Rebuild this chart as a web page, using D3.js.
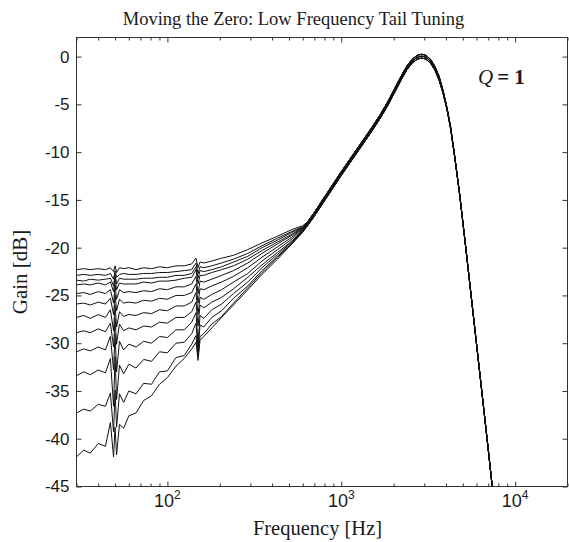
<!DOCTYPE html>
<html>
<head>
<meta charset="utf-8">
<script src="https://cdn.jsdelivr.net/npm/d3@7"></script>
<style>
  html, body { margin: 0; padding: 0; background: #fff; }
  svg { display: block; }
</style>
</head>
<body>
<div id="chart"></div>
<script>
// frequencies (Hz) of the low-frequency part
const lowFreqs = [
  30, 33, 36, 40, 44, 47, 49, 50,
  51, 53, 56, 60, 66, 73, 81, 90,
  100, 112, 125, 138, 146, 150, 154, 162,
  180, 205, 240, 290, 350, 430, 520, 600,
];

// gain (dB) of each curve at lowFreqs, top curve first
const lowGains = [
  [-22.3, -22.2, -22.3, -22.2, -22.3, -22.1, -22.5, -21.9,
   -22.6, -22.1, -22.2, -22.1, -22.3, -22.1, -22.2, -22.0,
   -22.1, -21.9, -21.9, -21.7, -21.1, -22.1, -21.5, -21.6,
   -21.4, -21.1, -20.8, -20.2, -19.5, -18.8, -18.1, -17.7],
  [-22.9, -22.8, -22.9, -22.8, -22.9, -22.7, -23.3, -22.4,
   -23.1, -22.8, -22.7, -22.8, -22.8, -22.7, -22.7, -22.6,
   -22.6, -22.5, -22.4, -22.3, -21.6, -22.7, -22.0, -22.1,
   -21.9, -21.6, -21.2, -20.6, -19.8, -19.0, -18.3, -17.8],
  [-23.4, -23.5, -23.3, -23.4, -23.3, -23.2, -24.0, -22.8,
   -23.8, -23.2, -23.3, -23.3, -23.3, -23.2, -23.2, -23.1,
   -23.1, -22.9, -22.9, -22.7, -22.0, -23.2, -22.4, -22.5,
   -22.3, -22.0, -21.5, -20.9, -20.0, -19.2, -18.4, -17.9],
  [-23.9, -23.8, -23.9, -23.7, -23.9, -23.6, -24.6, -23.1,
   -24.4, -23.7, -23.8, -23.8, -23.8, -23.6, -23.7, -23.5,
   -23.5, -23.4, -23.2, -23.1, -22.3, -23.8, -22.9, -22.9,
   -22.6, -22.3, -21.9, -21.2, -20.3, -19.4, -18.6, -17.9],
  [-24.8, -24.7, -24.9, -24.6, -24.8, -24.4, -25.8, -23.9,
   -25.4, -24.4, -24.7, -24.6, -24.7, -24.5, -24.6, -24.3,
   -24.4, -24.1, -24.1, -23.8, -23.0, -24.8, -23.5, -23.6,
   -23.3, -22.9, -22.4, -21.6, -20.6, -19.6, -18.7, -18.0],
  [-25.9, -25.8, -26.0, -25.7, -25.9, -25.3, -27.0, -24.9,
   -26.6, -25.4, -25.8, -25.7, -25.8, -25.5, -25.6, -25.3,
   -25.4, -25.0, -25.0, -24.7, -23.8, -25.8, -24.3, -24.4,
   -24.0, -23.6, -23.0, -22.1, -21.0, -19.9, -18.9, -18.0],
  [-27.3, -27.1, -27.4, -27.0, -27.3, -26.5, -28.7, -26.0,
   -28.3, -26.7, -27.2, -27.0, -27.1, -26.8, -26.9, -26.5,
   -26.6, -26.1, -26.1, -25.7, -24.7, -27.0, -25.2, -25.4,
   -24.9, -24.4, -23.6, -22.7, -21.4, -20.2, -19.1, -18.1],
  [-28.9, -28.7, -28.9, -28.5, -28.8, -27.9, -30.4, -27.4,
   -30.1, -28.0, -28.7, -28.4, -28.6, -28.2, -28.3, -27.8,
   -27.9, -27.3, -27.3, -26.7, -25.7, -28.2, -26.0, -26.3,
   -25.7, -25.2, -24.3, -23.1, -21.8, -20.5, -19.3, -18.2],
  [-30.9, -30.6, -30.8, -30.4, -30.7, -29.3, -32.8, -29.0,
   -33.0, -29.8, -30.7, -30.1, -30.4, -29.8, -30.0, -29.3,
   -29.4, -28.6, -28.6, -27.8, -26.8, -30.0, -27.1, -27.4,
   -26.5, -25.9, -24.8, -23.6, -22.1, -20.7, -19.4, -18.3],
  [-33.4, -33.0, -33.3, -32.8, -33.1, -31.6, -36.6, -31.4,
   -35.9, -32.3, -33.2, -32.2, -32.6, -31.7, -31.9, -30.9,
   -31.0, -30.0, -29.9, -29.0, -27.9, -30.9, -28.1, -28.3,
   -27.3, -26.6, -25.3, -24.0, -22.4, -20.9, -19.5, -18.3],
  [-37.3, -36.9, -37.1, -36.4, -36.6, -35.2, -39.3, -34.9,
   -38.8, -35.3, -36.2, -35.0, -35.3, -34.2, -34.3, -33.0,
   -32.9, -31.5, -31.3, -30.1, -29.2, -31.4, -29.3, -29.0,
   -28.0, -27.2, -25.8, -24.2, -22.6, -21.0, -19.6, -18.3],
  [-41.9, -41.2, -41.5, -40.5, -40.8, -38.3, -41.9, -38.8,
   -41.7, -38.5, -38.9, -37.6, -37.3, -36.0, -35.5, -34.3,
   -33.6, -32.4, -31.6, -30.6, -29.9, -31.8, -29.7, -29.3,
   -28.4, -27.3, -26.0, -24.4, -22.8, -21.2, -19.6, -18.4],
];

// shared band-pass part where all curves meet (three slightly different traces)
const tailFreqs = [
  640, 700, 780, 870, 970, 1080, 1200, 1340,
  1500, 1670, 1840, 2020, 2200, 2380, 2560, 2750,
  2900, 3050, 3250, 3450, 3650, 3850, 4050, 4250,
  4500, 4800, 5200, 5700, 6300, 7000, 7300, 7700,
];
const tailUpper = [
  -17.3, -16.3, -15.0, -13.7, -12.4, -11.15, -9.95, -8.7,
  -7.4, -6.1, -4.8, -3.4, -2.1, -1.0, -0.25, 0.15,
  0.25, 0.15, -0.25, -1.0, -2.05, -3.55, -5.3, -7.3,
  -10.55, -14.45, -19.95, -26.45, -33.55, -41.05, -44.15, -48.05,
];
const tailMiddle = [
  -17.5, -16.5, -15.2, -13.9, -12.6, -11.35, -10.15, -8.9,
  -7.6, -6.3, -5.0, -3.6, -2.3, -1.2, -0.45, -0.05,
  0.05, -0.05, -0.45, -1.2, -2.25, -3.7, -5.4, -7.4,
  -10.6, -14.5, -20.0, -26.5, -33.6, -41.1, -44.2, -48.1,
];
const tailLower = [
  -17.7, -16.7, -15.4, -14.1, -12.8, -11.55, -10.35, -9.1,
  -7.8, -6.5, -5.2, -3.8, -2.5, -1.4, -0.65, -0.25,
  -0.15, -0.25, -0.65, -1.4, -2.45, -3.85, -5.5, -7.5,
  -10.65, -14.55, -20.05, -26.55, -33.65, -41.15, -44.25, -48.15,
];

const yTicks = [0, -5, -10, -15, -20, -25, -30, -35, -40, -45];
const xMajorTicks = [100, 1000, 10000];
const xTickExponents = ["2", "3", "4"];

const TITLE = "Moving the Zero: Low Frequency Tail Tuning";
const X_LABEL = "Frequency [Hz]";
const Y_LABEL = "Gain [dB]";

const WIDTH = 569;
const HEIGHT = 542;
const PLOT_LEFT = 76.5;
const PLOT_RIGHT = 567.5;
const PLOT_TOP = 37.5;
const PLOT_BOTTOM = 486.5;
const MAJOR_TICK = 5;
const MINOR_TICK = 3;
const AXIS_COLOR = "#333";
const TEXT_COLOR = "#1a1a1a";
const SERIF = "'Liberation Serif', 'Times New Roman', serif";
const SANS = "'Liberation Sans', Arial, sans-serif";

const x = d3.scaleLog().domain([30, 20000]).range([PLOT_LEFT, PLOT_RIGHT]);
const y = d3.scaleLinear().domain([-45, 2]).range([PLOT_BOTTOM, PLOT_TOP]);

const svg = d3
  .select("#chart")
  .append("svg")
  .attr("width", WIDTH)
  .attr("height", HEIGHT)
  .attr("viewBox", [0, 0, WIDTH, HEIGHT]);

svg.append("rect").attr("width", WIDTH).attr("height", HEIGHT).attr("fill", "#fff");

svg
  .append("clipPath")
  .attr("id", "plot-clip")
  .append("rect")
  .attr("x", PLOT_LEFT)
  .attr("y", PLOT_TOP)
  .attr("width", PLOT_RIGHT - PLOT_LEFT)
  .attr("height", PLOT_BOTTOM - PLOT_TOP);

const tails = [tailUpper, tailMiddle, tailLower];
const curves = lowGains.map((gains, i) => {
  const tail = tails[i % 3];
  return lowFreqs
    .map((f, j) => [f, gains[j]])
    .concat(tailFreqs.map((f, j) => [f, tail[j]]));
});

const line = d3
  .line()
  .x((d) => x(d[0]))
  .y((d) => y(d[1]));

svg
  .append("g")
  .attr("class", "curves")
  .attr("clip-path", "url(#plot-clip)")
  .selectAll("path")
  .data(curves)
  .join("path")
  .attr("d", line)
  .attr("fill", "none")
  .attr("stroke", "#111")
  .attr("stroke-width", 1)
  .attr("stroke-linejoin", "round");

// ticks point inward on all four sides, matlab style
const xMinorTicks = x.ticks().filter((t) => !xMajorTicks.includes(t));
const dropDomain = (g) => g.select(".domain").remove();

function addTicks(axis, transform) {
  svg
    .append("g")
    .attr("transform", transform)
    .attr("color", AXIS_COLOR)
    .call(axis)
    .call(dropDomain);
}

addTicks(d3.axisBottom(x).tickValues(xMajorTicks).tickSize(-MAJOR_TICK).tickFormat(""), `translate(0,${PLOT_BOTTOM})`);
addTicks(d3.axisBottom(x).tickValues(xMinorTicks).tickSize(-MINOR_TICK).tickFormat(""), `translate(0,${PLOT_BOTTOM})`);
addTicks(d3.axisTop(x).tickValues(xMajorTicks).tickSize(-MAJOR_TICK).tickFormat(""), `translate(0,${PLOT_TOP})`);
addTicks(d3.axisTop(x).tickValues(xMinorTicks).tickSize(-MINOR_TICK).tickFormat(""), `translate(0,${PLOT_TOP})`);
addTicks(d3.axisRight(y).tickValues(yTicks).tickSize(-MAJOR_TICK).tickFormat(""), `translate(${PLOT_RIGHT},0)`);

const yAxis = svg
  .append("g")
  .attr("transform", `translate(${PLOT_LEFT},0)`)
  .attr("color", AXIS_COLOR)
  .call(
    d3
      .axisLeft(y)
      .tickValues(yTicks)
      .tickSize(-MAJOR_TICK)
      .tickPadding(7)
      .tickFormat((d) => String(d))
  )
  .call(dropDomain);
yAxis
  .attr("font-family", SANS)
  .attr("font-size", 17)
  .selectAll("text")
  .attr("fill", TEXT_COLOR);

svg
  .append("rect")
  .attr("x", PLOT_LEFT)
  .attr("y", PLOT_TOP)
  .attr("width", PLOT_RIGHT - PLOT_LEFT)
  .attr("height", PLOT_BOTTOM - PLOT_TOP)
  .attr("fill", "none")
  .attr("stroke", AXIS_COLOR)
  .attr("stroke-width", 1);

const xLabels = svg
  .append("g")
  .attr("font-family", SANS)
  .attr("fill", TEXT_COLOR)
  .selectAll("text")
  .data(xMajorTicks)
  .join("text")
  .attr("x", (d) => x(d))
  .attr("y", 507)
  .attr("text-anchor", "middle")
  .attr("font-size", 18);
xLabels.append("tspan").text("10");
xLabels
  .append("tspan")
  .attr("dy", -8)
  .attr("font-size", 12)
  .text((d, i) => xTickExponents[i]);

svg
  .append("text")
  .attr("x", 293.5)
  .attr("y", 25)
  .attr("text-anchor", "middle")
  .attr("font-family", SERIF)
  .attr("font-size", 18.5)
  .attr("fill", TEXT_COLOR)
  .text(TITLE);

svg
  .append("text")
  .attr("x", 317.5)
  .attr("y", 535)
  .attr("text-anchor", "middle")
  .attr("font-family", SERIF)
  .attr("font-size", 20.5)
  .attr("fill", TEXT_COLOR)
  .text(X_LABEL);

svg
  .append("text")
  .attr("transform", "translate(27,272) rotate(-90)")
  .attr("text-anchor", "middle")
  .attr("font-family", SERIF)
  .attr("font-size", 21)
  .attr("fill", TEXT_COLOR)
  .text(Y_LABEL);

const qLabel = svg
  .append("text")
  .attr("x", 478)
  .attr("y", 84)
  .attr("font-family", SERIF)
  .attr("font-size", 21)
  .attr("fill", TEXT_COLOR);
qLabel.append("tspan").attr("font-style", "italic").text("Q");
qLabel.append("tspan").attr("dx", 4).attr("font-weight", "bold").text("=");
qLabel.append("tspan").attr("dx", 5).attr("font-weight", "bold").text("1");
</script>
</body>
</html>
